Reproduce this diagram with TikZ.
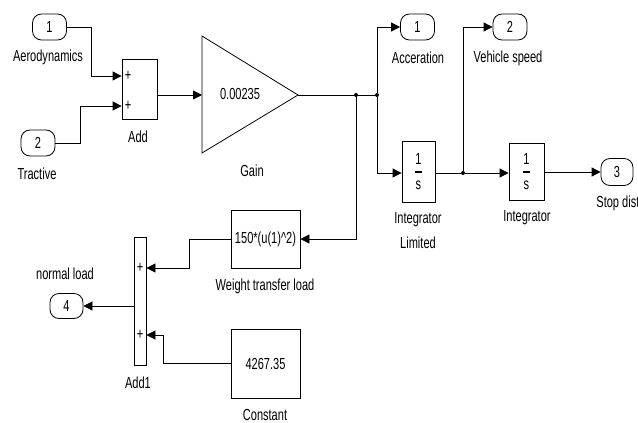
\documentclass[tikz,border=0pt]{standalone}
\usepackage{fontspec}
\setmainfont{Liberation Sans}[FakeStretch=0.69]
\usetikzlibrary{arrows.meta}
\begin{document}
\begin{tikzpicture}[x=1pt,y=-1pt,
  line width=0.8pt,
  every node/.style={font=\fontsize{16}{17}\selectfont, inner sep=0pt},
  port/.style={draw, rounded corners=9pt, minimum width=34pt, minimum height=26pt},
  wire/.style={-{Triangle[length=9pt,width=9pt]}},
  dot/.style={circle, fill=black, minimum size=4pt, inner sep=0pt},
  fracbar/.style={fill=black, minimum width=7pt, minimum height=1.6pt}]
\useasboundingbox (0,0) rectangle (638,423);
% ports
\node[port] (in1) at (49.5,27) {1};
\node[port] (in2) at (38,143) {2};
\node[port] (out1) at (417.5,27) {1};
\node[port] (out2) at (510,27) {2};
\node[port, minimum width=32pt, minimum height=27pt] (out3) at (617,172) {3};
\node[port, minimum width=33pt, minimum height=25pt] (out4) at (66.5,306) {4};
% blocks
\node[draw, minimum width=35pt, minimum height=60pt] (add) at (139.5,89) {};
\node[draw, minimum width=33pt, minimum height=61pt] (intlim) at (418.5,171.5) {};
\node[draw, minimum width=35pt, minimum height=57pt] (integ) at (526.5,171.5) {};
\node[draw, minimum width=69pt, minimum height=58pt] (wt) at (265.5,239) {150*(u(1)\textasciicircum 2)};
\node[draw, minimum width=12pt, minimum height=128pt] (add1) at (140,301) {};
\node[draw, minimum width=69pt, minimum height=69pt] (const) at (265.5,363.5) {4267.35};
% 1/s contents
\node (n1) at (418.5,159) {1};
\node[fracbar] (b1) at (418.5,172) {};
\node (s1) at (418.5,185) {s};
\node (n2) at (526.5,159) {1};
\node[fracbar] (b2) at (526.5,172) {};
\node (s2) at (526.5,185) {s};
% gain
\coordinate (gin) at (202,95);
\coordinate (gout) at (298,95);
\draw (202,36) -- (gout) -- (202,153) -- cycle;
\node (gval) at (240,94) {0.00235};
% plus signs
\node (p1) at (128,76) {+};
\node (p2) at (128,106) {+};
\node (p3) at (140,268) {+};
\node (p4) at (140,335) {+};
% labels
\node (l1) at (48,57) {Aerodynamics};
\node (l2) at (37,174) {Tractive};
\node (l3) at (138,137) {Add};
\node (l4) at (252,171) {Gain};
\node (l5) at (418,58) {Acceration};
\node (l6) at (508,58) {Vehicle speed};
\node (l7) at (418,220) {Integrator};
\node (l8) at (418,243) {Limited};
\node (l9) at (527,218) {Integrator};
\node[anchor=west] (l10) at (596,203) {Stop dist};
\node (l11) at (265,286) {Weight transfer load};
\node (l12) at (265,415) {Constant};
\node (l13) at (65,274) {normal load};
\node (l14) at (138,383) {Add1};
% junctions
\node[dot] (j1) at (356,95) {};
\node[dot] (j2) at (377,95) {};
\node[dot] (j3) at (463,173) {};
% wires
\draw[wire] (in1.east) -- (91,27) |- (add.west |- p1);
\draw[wire] (in2.east) -- (80,143) |- (add.west |- p2);
\draw[wire] (add.east |- gin) -- (gin);
\draw (gout) -- (j1) -- (j2);
\draw[wire] (j2) |- (out1.west);
\draw[wire] (j2) |- (intlim.west |- j3);
\draw (intlim.east |- j3) -- (j3);
\draw[wire] (j3) -- (integ.west |- j3);
\draw[wire] (j3) |- (out2.west);
\draw[wire] (integ.east |- out3) -- (out3.west);
\draw[wire] (j1) |- (wt.east);
\draw[wire] (wt.west) -- (189,239) |- (add1.east |- p3);
\draw[wire] (const.west) -- (163,363.5) |- (add1.east |- p4);
\draw[wire] (add1.west |- out4) -- (out4.east);
\end{tikzpicture}
\end{document}
